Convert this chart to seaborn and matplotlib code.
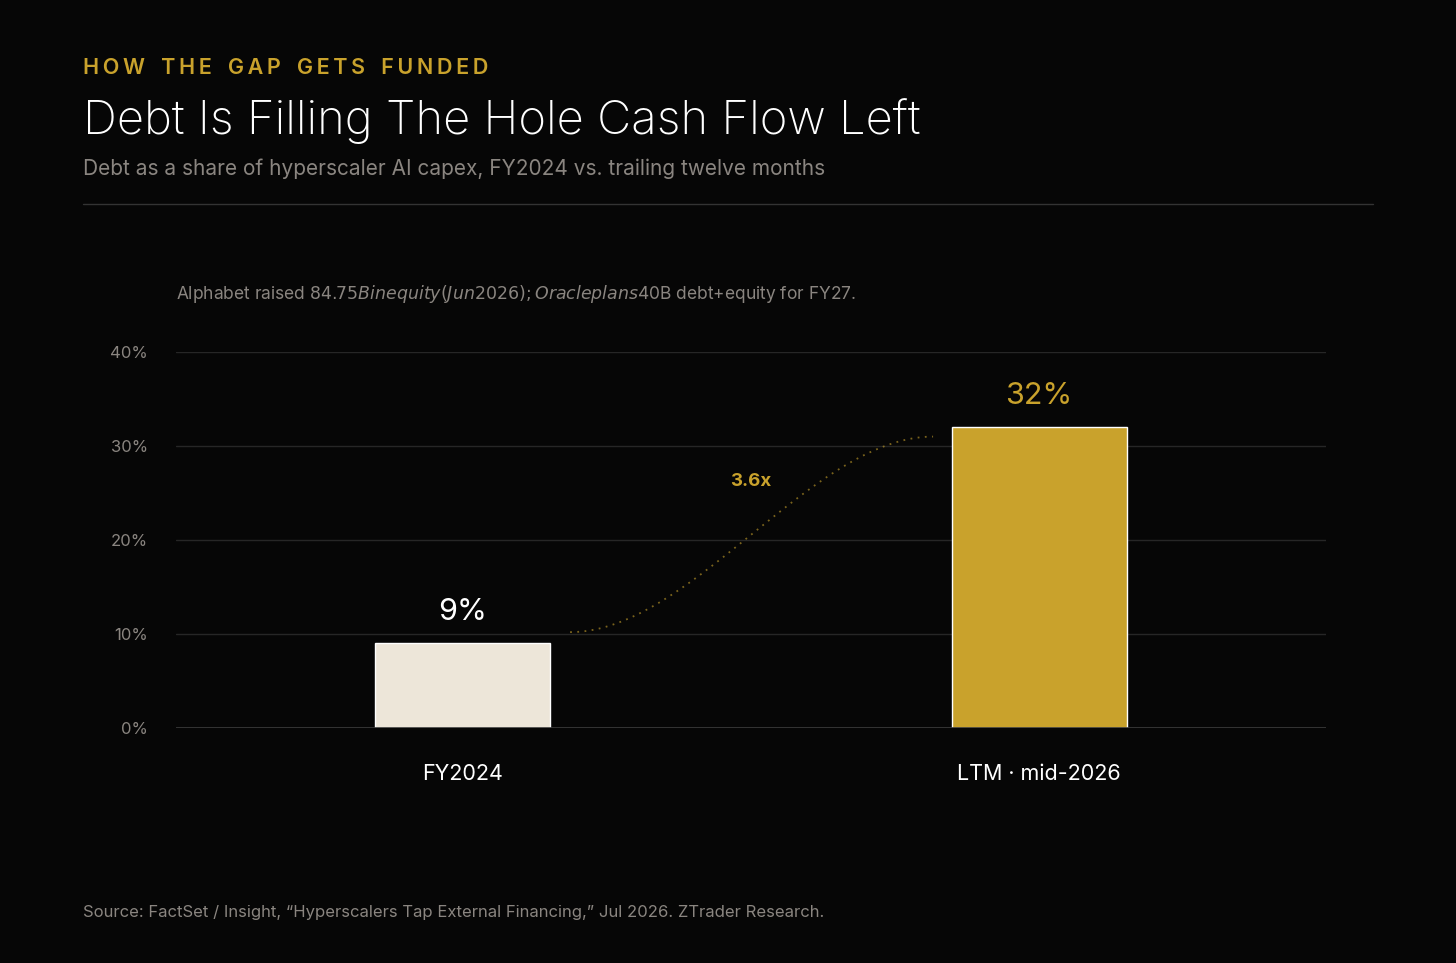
import numpy as np
import pandas as pd
import matplotlib.pyplot as plt
import seaborn as sns

categories = ["FY2024", "LTM · mid-2026"]
debt_share = [9, 32]
value_labels = ["9%", "32%"]
yticks = [0, 10, 20, 30, 40]
multiple_label = "3.6x"

BG = "#060606"
GOLD = "#C9A22C"
CREAM = "#EDE6D9"
GREY = "#8a8580"

sns.set_theme(style="dark")
plt.rcParams['font.family'] = ['Inter', 'DejaVu Sans']

fig = plt.figure(figsize=(14.56, 9.63), dpi=100, facecolor=BG)
ax = fig.add_axes([176/1456, 1-728/963, 1150/1456, 376/963])
ax.set_facecolor(BG)

df = pd.DataFrame({"cat": categories, "val": debt_share})
sns.barplot(data=df, x="cat", y="val", hue="cat", palette=[CREAM, GOLD],
            width=0.304, legend=False, ax=ax, saturation=1)

ax.set_xlim(-0.498, 1.498)
ax.set_ylim(0, 40)
ax.set_yticks(yticks)
ax.set_yticklabels([f"{t}%" for t in yticks], color=GREY, fontsize=12)
ax.yaxis.grid(True, color="#262626", linewidth=1)
ax.xaxis.grid(False)
ax.set_axisbelow(True)
for s in ax.spines.values():
    s.set_visible(False)
ax.axhline(0, color="#3a3a3a", linewidth=1.2, zorder=3)
ax.tick_params(axis="y", length=0, pad=20)
ax.tick_params(axis="x", length=0, pad=26)
ax.set_xticks([0, 1])
ax.set_xticklabels(categories, color="white", fontsize=15.5)
ax.set_xlabel("")
ax.set_ylabel("")

for i, (v, lab) in enumerate(zip(debt_share, value_labels)):
    ax.text(i, v + 1.8, lab, ha="center", va="bottom", fontsize=22,
            color="white" if i == 0 else GOLD)

# dotted connector between bars
t = np.linspace(0, 1, 100)
s = t * t * (3 - 2 * t)
x0, y0, x1, y1 = 0.186, debt_share[0] + 1.2, 0.816, debt_share[1] - 1.0
ax.plot(x0 + (x1 - x0) * t, y0 + (y1 - y0) * s, linestyle=(0, (1, 3)),
        color=GOLD, alpha=0.6, linewidth=1.3)
ax.text(0.5, 26.2, multiple_label, ha="center", va="center", color=GOLD,
        fontsize=13.5, fontweight="bold")

ax.text(0, 1.155, "Alphabet raised $84.75B in equity (Jun 2026); Oracle plans $40B debt+equity for FY27.",
        transform=ax.transAxes, color=GREY, fontsize=12.5, va="center")

kicker = "HOW THE GAP GETS FUNDED"
fig.text(83/1456, 1-68/963, "\u2009".join(kicker.replace(" ", "  ")).replace("\u2009 \u2009 \u2009", "   "),
         color=GOLD, fontsize=15.5, fontweight="semibold", va="center")
fig.text(83/1456, 1-121/963, "Debt Is Filling The Hole Cash Flow Left", color="white",
         fontsize=34, fontweight="light", va="center")
fig.text(83/1456, 1-169/963, "Debt as a share of hyperscaler AI capex, FY2024 vs. trailing twelve months",
         color=GREY, fontsize=15, va="center")
fig.add_artist(plt.Line2D([83/1456, 1373/1456], [1-204/963, 1-204/963],
                          color="#333333", linewidth=1))
fig.text(83/1456, 1-912/963,
         "Source: FactSet / Insight, \u201cHyperscalers Tap External Financing,\u201d Jul 2026. ZTrader Research.",
         color=GREY, fontsize=12, va="center")

fig.savefig("out.png", dpi=100, facecolor=BG)
